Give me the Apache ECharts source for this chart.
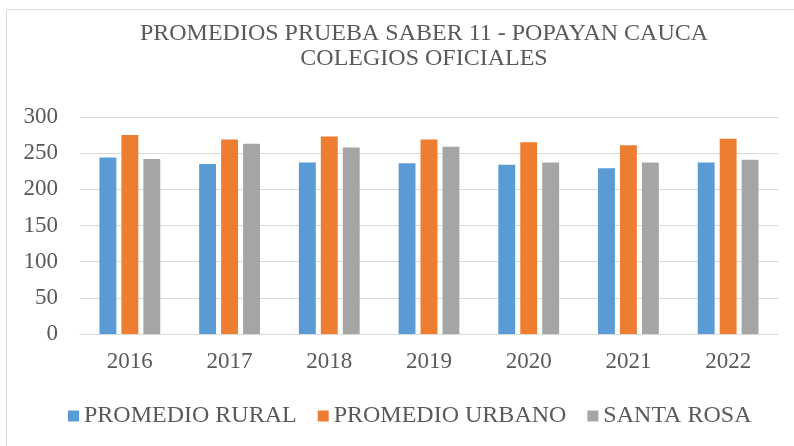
<!DOCTYPE html>
<html>
<head>
<meta charset="utf-8">
<title>Promedios Prueba Saber 11</title>
<script src="https://cdn.jsdelivr.net/npm/echarts@6/dist/echarts.min.js"></script>
<style>
  html, body { margin: 0; padding: 0; background: #fff; }
  #chart { width: 794px; height: 446px; }
</style>
</head>
<body>
<div id="chart"></div>
<script>
// data
const years = ['2016', '2017', '2018', '2019', '2020', '2021', '2022']
const rural = [244, 235, 237, 236, 234, 229, 237]
const urbano = [275, 269, 273, 269, 265, 261, 270]
const santaRosa = [242, 263, 258, 259, 237, 237, 241]

const textColor = '#595959'
const font = 'Liberation Serif'

const chart = echarts.init(document.getElementById('chart'))

chart.setOption({
    animation: false,
    textStyle: { fontFamily: font },
    // chart area border like the Excel frame
    graphic: [{
        type: 'rect',
        shape: { x: 6.5, y: 9.5, width: 820, height: 460 },
        style: { fill: 'none', stroke: '#d9d9d9', lineWidth: 1 },
        silent: true
    }],
    title: {
        text: 'PROMEDIOS PRUEBA SABER 11 - POPAYAN CAUCA\nCOLEGIOS OFICIALES',
        left: 419,
        top: 16,
        textAlign: 'center',
        textStyle: {
            fontFamily: font,
            fontWeight: 'normal',
            fontSize: 24,
            lineHeight: 25,
            color: textColor,
            align: 'center'
        }
    },
    legend: {
        left: 68,
        top: 404,
        padding: 0,
        itemWidth: 11,
        itemHeight: 11,
        itemGap: 21,
        icon: 'rect',
        textStyle: { fontFamily: font, fontSize: 24, color: textColor },
        data: ['PROMEDIO RURAL', 'PROMEDIO URBANO', 'SANTA ROSA']
    },
    grid: {
        left: 80,
        right: 16,
        top: 117,
        bottom: 112
    },
    xAxis: {
        type: 'category',
        data: years,
        axisLine: { lineStyle: { color: '#d9d9d9', width: 1 } },
        axisTick: { show: false },
        axisLabel: { color: textColor, fontSize: 23, fontFamily: font, margin: 16 }
    },
    yAxis: {
        type: 'value',
        min: 0,
        max: 300,
        interval: 50,
        axisLine: { show: false },
        axisTick: { show: false },
        axisLabel: { color: textColor, fontSize: 23, fontFamily: font, margin: 22 },
        splitLine: { lineStyle: { color: '#d9d9d9', width: 1 } }
    },
    series: [
        {
            name: 'PROMEDIO RURAL',
            type: 'bar',
            data: rural,
            barGap: '30%',
            barCategoryGap: '39%',
            itemStyle: { color: '#5b9bd5' }
        },
        {
            name: 'PROMEDIO URBANO',
            type: 'bar',
            data: urbano,
            barGap: '30%',
            barCategoryGap: '39%',
            itemStyle: { color: '#ed7d31' }
        },
        {
            name: 'SANTA ROSA',
            type: 'bar',
            data: santaRosa,
            barGap: '30%',
            barCategoryGap: '39%',
            itemStyle: { color: '#a5a5a5' }
        }
    ]
})
</script>
</body>
</html>
